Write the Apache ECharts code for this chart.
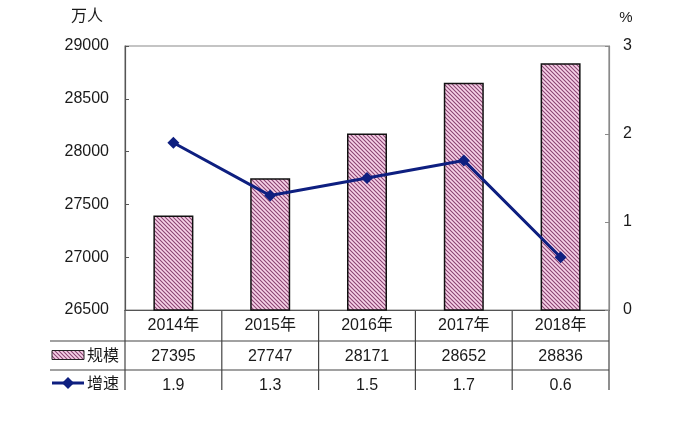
<!DOCTYPE html>
<html><head><meta charset="utf-8">
<script src="https://cdn.jsdelivr.net/npm/echarts@6/dist/echarts.min.js"></script>
<style>html,body{margin:0;padding:0;background:#fff}#c{width:675px;height:431px}</style>
</head><body><div id="c"></div>
<script>
const categories = ['2014年','2015年','2016年','2017年','2018年'];
const scaleValues = [27395, 27747, 28171, 28652, 28836];
const growthValues = [1.9, 1.3, 1.5, 1.7, 0.6];
const scaleName = '规模';
const growthName = '增速';
const leftUnit = '万人';
const rightUnit = '%';

function makePattern(){
  const c = document.createElement('canvas');
  c.width = 4; c.height = 4;
  const g = c.getContext('2d');
  g.fillStyle = '#f7d2e8';
  g.fillRect(0,0,4,4);
  g.strokeStyle = '#8a4472';
  g.lineWidth = 1.1;
  g.beginPath();
  g.moveTo(-1,-1); g.lineTo(5,5);
  g.moveTo(-3,1); g.lineTo(3,7);
  g.moveTo(1,-3); g.lineTo(7,3);
  g.stroke();
  return c;
}
const pat = {image: makePattern(), repeat: 'repeat'};
const FONT = "'Liberation Sans','Noto Sans CJK SC',sans-serif";
const TXT = '#1a1a1a';
const NAVY = '#0e1f80';

const chart = echarts.init(document.getElementById('c'), null, {renderer:'canvas'});
chart.setOption({
  animation: false,
  textStyle: {fontFamily: FONT},
  grid: {left:125, right:66, top:46, bottom:121, show:true, borderColor:'#8a8a8a', borderWidth:1.2},
  xAxis: {
    type:'category', data: categories,
    axisLine:{show:true, lineStyle:{color:'#555', width:1.2}},
    axisTick:{show:false},
    axisLabel:{fontSize:16, color:TXT, fontFamily:FONT, margin:8}
  },
  yAxis: [
    {type:'value', min:26500, max:29000, interval:500,
     axisLine:{show:true, lineStyle:{color:'#555', width:1.2}},
     axisTick:{show:true, inside:true, length:4, lineStyle:{color:'#555'}},
     splitLine:{show:false},
     axisLabel:{fontSize:16, color:TXT, fontFamily:FONT, margin:16, formatter: v => String(v)}},
    {type:'value', min:0, max:3, interval:1, position:'right',
     axisLine:{show:true, lineStyle:{color:'#8a8a8a', width:1.2}},
     axisTick:{show:true, inside:true, length:4, lineStyle:{color:'#8a8a8a'}},
     splitLine:{show:false},
     axisLabel:{fontSize:16, color:TXT, fontFamily:FONT, margin:14, formatter: v => String(v)}}
  ],
  series: [
    {type:'bar', name:scaleName, data: scaleValues, barWidth:40, yAxisIndex:0,
     itemStyle:{color: pat, borderColor:'#111', borderWidth:1.5}},
    {type:'line', name:growthName, data: growthValues, yAxisIndex:1,
     lineStyle:{color:NAVY, width:3}, itemStyle:{color:NAVY},
     symbol:'diamond', symbolSize:12, showSymbol:true, z:5}
  ]
});

// Data table below chart
const x0 = chart.convertToPixel({xAxisIndex:0}, 0);
const x1 = chart.convertToPixel({xAxisIndex:0}, 1);
const band = x1 - x0;
const left = x0 - band/2;
const right = left + band*categories.length;
const axisY = chart.convertToPixel({yAxisIndex:0}, 26500);
const row1 = axisY + 31, row2 = row1 + 29, tableBottom = 390;
const legendLeft = 50;
const els = [];
const ls = {stroke:'#444', lineWidth:1.2};
els.push({type:'line', shape:{x1:legendLeft, y1:row1, x2:right, y2:row1}, style:ls});
els.push({type:'line', shape:{x1:legendLeft, y1:row2, x2:right, y2:row2}, style:ls});
for (let k=0;k<=categories.length;k++){
  const xx = left + band*k;
  els.push({type:'line', shape:{x1:xx, y1:axisY, x2:xx, y2:tableBottom}, style:ls});
}
categories.forEach((c,i)=>{
  const cx = chart.convertToPixel({xAxisIndex:0}, i);
  els.push({type:'text', x:cx, y:(row1+row2)/2+1, style:{text:String(scaleValues[i]), font:'16px '+FONT, fill:TXT, align:'center', verticalAlign:'middle'}});
  els.push({type:'text', x:cx, y:row2+16, style:{text:String(growthValues[i]), font:'16px '+FONT, fill:TXT, align:'center', verticalAlign:'middle'}});
});
// legend keys
els.push({type:'rect', shape:{x:52, y:(row1+row2)/2-5, width:32, height:9}, style:{fill:pat, stroke:'#222', lineWidth:1}});
els.push({type:'text', x:87, y:(row1+row2)/2+1, style:{text:scaleName, font:'16px '+FONT, fill:TXT, align:'left', verticalAlign:'middle'}});
els.push({type:'line', shape:{x1:52, y1:row2+13, x2:84, y2:row2+13}, style:{stroke:NAVY, lineWidth:3}});
els.push({type:'polygon', shape:{points:[[68,row2+7],[74,row2+13],[68,row2+19],[62,row2+13]]}, style:{fill:NAVY}});
els.push({type:'text', x:87, y:row2+15, style:{text:growthName, font:'16px '+FONT, fill:TXT, align:'left', verticalAlign:'middle'}});
// units
els.push({type:'text', x:87, y:17, style:{text:leftUnit, font:'16px '+FONT, fill:TXT, align:'center', verticalAlign:'middle'}});
els.push({type:'text', x:626, y:18, style:{text:rightUnit, font:'15px '+FONT, fill:TXT, align:'center', verticalAlign:'middle'}});
// crop bottom like the reference
els.push({type:'rect', shape:{x:0, y:tableBottom, width:675, height:431-tableBottom}, style:{fill:'#fff'}, z:100});
chart.setOption({graphic: els});
</script>
</body></html>
